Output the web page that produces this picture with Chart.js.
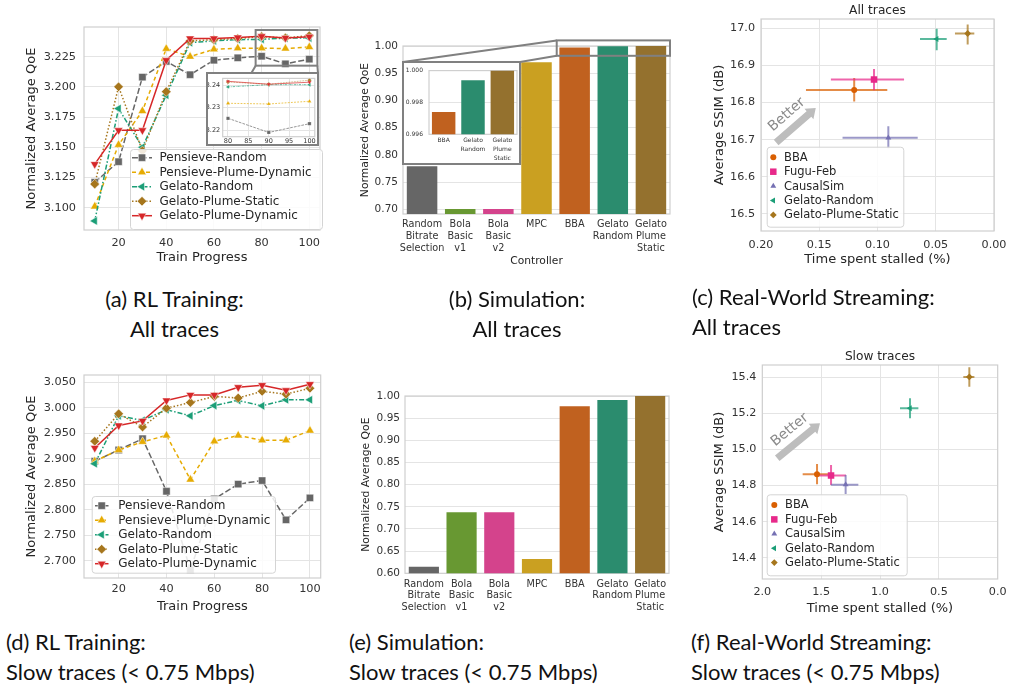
<!DOCTYPE html>
<html>
<head>
<meta charset="utf-8">
<script src="https://cdn.jsdelivr.net/npm/chart.js@4.4.1/dist/chart.umd.min.js"></script>
<style>
  html, body { margin: 0; padding: 0; background: #fff; }
  body { position: relative; width: 1014px; height: 692px; overflow: hidden; }
  canvas { position: absolute; }
  .cap { position: absolute; font-family: Lato, "Open Sans", sans-serif; font-size: 22px; line-height: 30px; color: #111; white-space: nowrap; }
</style>
</head>
<body>
<canvas id="chartA" style="left:0px;top:0px" width="340" height="270"></canvas>
<canvas id="chartB" style="left:330px;top:0px" width="345" height="270"></canvas>
<canvas id="chartC" style="left:675px;top:0px" width="339" height="271"></canvas>
<canvas id="chartD" style="left:0px;top:345px" width="340" height="273"></canvas>
<canvas id="chartE" style="left:330px;top:345px" width="345" height="273"></canvas>
<canvas id="chartF" style="left:675px;top:345px" width="339" height="274"></canvas>
<canvas id="insetA" style="left:206px;top:72px" width="113" height="74"></canvas>
<canvas id="insetB" style="left:402px;top:61px" width="119" height="104"></canvas>

<div class="cap" style="left:0px;top:284px;width:349px;text-align:center">(a) RL Training:<br>All traces</div>
<div class="cap" style="left:387px;top:284px;width:260px;text-align:center">(b) Simulation:<br>All traces</div>
<div class="cap" style="left:692px;top:282px">(c) Real-World Streaming:<br>All traces</div>
<div class="cap" style="left:6px;top:627px">(d) RL Training:<br>Slow traces (&lt; 0.75 Mbps)</div>
<div class="cap" style="left:349px;top:627px">(e) Simulation:<br>Slow traces (&lt; 0.75 Mbps)</div>
<div class="cap" style="left:691px;top:627px">(f) Real-World Streaming:<br>Slow traces (&lt; 0.75 Mbps)</div>

<script>
// ---------- data ----------
const trainProgress = [10, 20, 30, 40, 50, 60, 70, 80, 90, 100];
const trainNames = ['Pensieve-Random', 'Pensieve-Plume-Dynamic', 'Gelato-Random', 'Gelato-Plume-Static', 'Gelato-Plume-Dynamic'];

// (a) all traces
const allPensieveRandom   = [3.121, 3.138, 3.208, 3.221, 3.210, 3.222, 3.224, 3.2253, 3.219, 3.2229];
const allPensievePlumeDyn = [3.101, 3.152, 3.180, 3.2315, 3.225, 3.231, 3.232, 3.2320, 3.2317, 3.2329];
const allGelatoRandom     = [3.089, 3.182, 3.150, 3.193, 3.2365, 3.238, 3.239, 3.2393, 3.2403, 3.2403];
const allGelatoPlumeStat  = [3.1195, 3.200, 3.147, 3.196, 3.238, 3.239, 3.240, 3.2415, 3.2405, 3.2423];
const allGelatoPlumeDyn   = [3.136, 3.164, 3.164, 3.222, 3.240, 3.240, 3.2408, 3.2418, 3.2405, 3.2414];

// (d) slow traces
const slowPensieveRandom   = [2.895, 2.917, 2.939, 2.836, 2.682, 2.821, 2.850, 2.857, 2.780, 2.823];
const slowPensievePlumeDyn = [2.895, 2.917, 2.933, 2.9455, 2.859, 2.934, 2.9455, 2.936, 2.936, 2.955];
const slowGelatoRandom     = [2.890, 2.984, 2.975, 2.996, 2.984, 3.004, 3.014, 3.0036, 3.0154, 3.0154];
const slowGelatoPlumeStat  = [2.934, 2.988, 2.962, 2.999, 3.010, 3.022, 3.019, 3.032, 3.0265, 3.038];
const slowGelatoPlumeDyn   = [2.921, 2.965, 2.974, 3.014, 3.025, 3.025, 3.040, 3.044, 3.034, 3.046];

const progressTicks = [20, 40, 60, 80, 100];
const zoomProgressTicks = [80, 85, 90, 95, 100];
const qoeAllTicks = [3.100, 3.125, 3.150, 3.175, 3.200, 3.225];
const qoeSlowTicks = [2.700, 2.750, 2.800, 2.850, 2.900, 2.950, 3.000, 3.050];
const zoomQoeTicks = [3.22, 3.23, 3.24];

// (b), (e) simulation
const controllers = [['Random', 'Bitrate', 'Selection'], ['Bola', 'Basic', 'v1'], ['Bola', 'Basic', 'v2'], 'MPC', 'BBA', ['Gelato', 'Random'], ['Gelato', 'Plume', 'Static']];
const simAllQoE  = [0.779, 0.7005, 0.7005, 0.970, 0.9974, 0.9994, 1.000];
const simSlowQoE = [0.615, 0.738, 0.738, 0.632, 0.977, 0.991, 1.000];
const zoomControllers = ['BBA', ['Gelato', 'Random'], ['Gelato', 'Plume', 'Static']];
const zoomSimQoE = [0.9974, 0.9994, 1.000];
const simAllTicks = [0.70, 0.75, 0.80, 0.85, 0.90, 0.95, 1.00];
const simSlowTicks = [0.60, 0.65, 0.70, 0.75, 0.80, 0.85, 0.90, 0.95, 1.00];
const zoomSimTicks = [0.996, 0.998, 1.000];

// (c), (f) real-world streaming
const streamNames = ['BBA', 'Fugu-Feb', 'CausalSim', 'Gelato-Random', 'Gelato-Plume-Static'];
const allStall    = [0.120, 0.103, 0.0907, 0.0492, 0.0226];
const allStallLo  = [0.0916, 0.0772, 0.0655, 0.0406, 0.0169];
const allStallHi  = [0.1614, 0.140, 0.130, 0.0635, 0.0335];
const allSsim     = [16.834, 16.862, 16.705, 16.971, 16.986];
const allSsimLo   = [16.803, 16.833, 16.677, 16.941, 16.956];
const allSsimHi   = [16.866, 16.890, 16.736, 16.999, 17.010];
const slowStall   = [1.535, 1.416, 1.292, 0.745, 0.241];
const slowStallLo = [1.431, 1.289, 1.184, 0.674, 0.198];
const slowStallHi = [1.657, 1.516, 1.416, 0.830, 0.292];
const slowSsim    = [14.862, 14.856, 14.805, 15.228, 15.402];
const slowSsimLo  = [14.807, 14.803, 14.753, 15.173, 15.348];
const slowSsimHi  = [14.919, 14.914, 14.858, 15.284, 15.455];
const stallAllTicks = [0.00, 0.05, 0.10, 0.15, 0.20];
const stallSlowTicks = [0.0, 0.5, 1.0, 1.5, 2.0];
const ssimAllTicks = [16.5, 16.6, 16.7, 16.8, 16.9, 17.0];
const ssimSlowTicks = [14.4, 14.6, 14.8, 15.0, 15.2, 15.4];

// ---------- styles ----------
const FONT = 'DejaVu Sans';
const TICK = '#333333';
const LABEL = '#262626';
const GRID = '#e4e4e4';
const SPINE = '#cfcfcf';

const lineStyles = [
  { color: '#666666', dash: [6, 2.5], point: 'rect', rot: 0, r: 5.2 },
  { color: '#e6ab02', dash: [4, 3], point: 'triangle', rot: 0, r: 5 },
  { color: '#1b9e77', dash: [5, 2, 1.5, 2], point: 'triangle', rot: -90, r: 5 },
  { color: '#a6761d', dash: [1.5, 2], point: 'rectRot', rot: 0, r: 4.8 },
  { color: '#d62728', dash: [], point: 'triangle', rot: 180, r: 5 },
];
const barColors = ['#666666', '#689832', '#d4438c', '#caa021', '#c0611f', '#2b8c6e', '#94712e'];
const zoomBarColors = barColors.slice(4);
const streamStyles = [
  { color: '#d95f02', point: 'circle', rot: 0, r: 3 },
  { color: '#e7298a', point: 'rect', rot: 0, r: 4.6 },
  { color: '#7570b3', point: 'triangle', rot: 0, r: 3.4 },
  { color: '#1b9e77', point: 'triangle', rot: -90, r: 3.4 },
  { color: '#a6761d', point: 'rectRot', rot: 0, r: 3.4 },
];

function alpha(hex, a) {
  const n = parseInt(hex.slice(1), 16);
  return `rgba(${n >> 16}, ${(n >> 8) & 255}, ${n & 255}, ${a})`;
}

// ---------- plugins ----------
const frame = {
  id: 'frame',
  beforeDatasetsDraw(chart) {
    const { ctx, chartArea: a } = chart;
    ctx.save();
    ctx.strokeStyle = SPINE;
    ctx.lineWidth = 1.2;
    ctx.strokeRect(a.left, a.top, a.right - a.left, a.bottom - a.top);
    ctx.restore();
  }
};

const insetBox = {
  id: 'insetBox',
  beforeDraw(chart, args, o) {
    if (!o.on) return;
    chart.ctx.save();
    chart.ctx.fillStyle = '#ffffff';
    chart.ctx.fillRect(0, 0, chart.width, chart.height);
    chart.ctx.restore();
  },
  afterDraw(chart, args, o) {
    if (!o.on) return;
    const ctx = chart.ctx;
    ctx.save();
    ctx.strokeStyle = '#808080';
    ctx.lineWidth = 2;
    ctx.strokeRect(1, 1, chart.width - 2, chart.height - 2);
    ctx.restore();
  }
};

function roundRect(ctx, x, y, w, h, r) {
  ctx.moveTo(x + r, y);
  ctx.arcTo(x + w, y, x + w, y + h, r);
  ctx.arcTo(x + w, y + h, x, y + h, r);
  ctx.arcTo(x, y + h, x, y, r);
  ctx.arcTo(x, y, x + w, y, r);
  ctx.closePath();
}

const boxLegend = {
  id: 'boxLegend',
  afterDraw(chart, args, o) {
    if (!o.box) return;
    const ctx = chart.ctx;
    const [l, t, r, b] = o.box;
    ctx.save();
    ctx.beginPath();
    roundRect(ctx, l + 0.5, t + 0.5, r - l, b - t, 3);
    ctx.fillStyle = 'rgba(255,255,255,0.85)';
    ctx.fill();
    ctx.strokeStyle = '#d4d4d4';
    ctx.lineWidth = 1;
    ctx.stroke();
    ctx.font = o.fontSize + 'px "' + FONT + '"';
    ctx.textBaseline = 'middle';
    ctx.textAlign = 'left';
    chart.data.datasets.forEach((ds, i) => {
      const y = o.rowTop + i * o.rowStep;
      if (o.handle) {
        ctx.strokeStyle = ds.borderColor;
        ctx.lineWidth = ds.borderWidth;
        ctx.setLineDash(ds.borderDash || []);
        ctx.beginPath();
        ctx.moveTo(o.handle[0], y);
        ctx.lineTo(o.handle[1], y);
        ctx.stroke();
        ctx.setLineDash([]);
      }
      ctx.fillStyle = ds.pointBackgroundColor;
      ctx.strokeStyle = ds.pointBorderColor;
      ctx.lineWidth = ds.pointBorderWidth || 0;
      Chart.helpers.drawPoint(ctx, {
        pointStyle: ds.pointStyle, rotation: ds.pointRotation || 0,
        radius: ds.pointRadius, borderWidth: ds.pointBorderWidth || 0
      }, o.markerX, y);
      ctx.fillStyle = LABEL;
      ctx.fillText(ds.label, o.textX, y + 0.5);
    });
    ctx.restore();
  }
};

const errorBars = {
  id: 'errorBars',
  beforeDatasetsDraw(chart) {
    const { ctx, scales: { x, y } } = chart;
    ctx.save();
    ctx.lineWidth = 2;
    chart.data.datasets.forEach(ds => {
      if (!ds.errX) return;
      const p = ds.data[0];
      const px = x.getPixelForValue(p.x), py = y.getPixelForValue(p.y);
      ctx.strokeStyle = ds.errColor;
      ctx.beginPath();
      ctx.moveTo(x.getPixelForValue(ds.errX[0]), py);
      ctx.lineTo(x.getPixelForValue(ds.errX[1]), py);
      ctx.moveTo(px, y.getPixelForValue(ds.errY[0]));
      ctx.lineTo(px, y.getPixelForValue(ds.errY[1]));
      ctx.stroke();
    });
    ctx.restore();
  }
};

const betterArrow = {
  id: 'betterArrow',
  afterDatasetsDraw(chart, args, o) {
    if (!o.from) return;
    const { ctx, scales: { x, y } } = chart;
    const x0 = x.getPixelForValue(o.from[0]), y0 = y.getPixelForValue(o.from[1]);
    const x1 = x.getPixelForValue(o.to[0]), y1 = y.getPixelForValue(o.to[1]);
    const ang = Math.atan2(y1 - y0, x1 - x0);
    const len = Math.hypot(x1 - x0, y1 - y0);
    const sw = 3.6, hw = 6.8, hl = 9;
    ctx.save();
    ctx.translate(x0, y0);
    ctx.rotate(ang);
    ctx.fillStyle = '#bdbdbd';
    ctx.beginPath();
    ctx.moveTo(0, -sw); ctx.lineTo(len - hl, -sw); ctx.lineTo(len - hl, -hw);
    ctx.lineTo(len, 0);
    ctx.lineTo(len - hl, hw); ctx.lineTo(len - hl, sw); ctx.lineTo(0, sw);
    ctx.closePath();
    ctx.fill();
    ctx.fillStyle = '#8a8a8a';
    ctx.font = '14px "' + FONT + '"';
    ctx.textAlign = 'center';
    ctx.textBaseline = 'middle';
    ctx.fillText(o.text, len / 2, -14);
    ctx.restore();
  }
};

const panelTitle = {
  id: 'panelTitle',
  afterDraw(chart, args, o) {
    if (!o.text) return;
    const { ctx, chartArea: a } = chart;
    ctx.save();
    ctx.font = o.size + 'px "' + FONT + '"';
    ctx.fillStyle = LABEL;
    ctx.textAlign = 'center';
    ctx.textBaseline = 'middle';
    ctx.fillText(o.text, (a.left + a.right) / 2, a.top - o.offset);
    ctx.restore();
  }
};

// indicator rectangle on the main axes and connector lines to the inset box
const zoomLinks = {
  id: 'zoomLinks',
  afterDraw(chart, args, o) {
    if (!o.rect) return;
    const { ctx, scales: { x, y } } = chart;
    const rx0 = x.getPixelForValue(o.rect[0]), rx1 = x.getPixelForValue(o.rect[1]);
    const ry0 = y.getPixelForValue(o.rect[2]), ry1 = y.getPixelForValue(o.rect[3]);
    const rc = { bl: [rx0, ry0], tl: [rx0, ry1], br: [rx1, ry0], tr: [rx1, ry1] };
    const el = document.getElementById(o.inset);
    const ix0 = el.offsetLeft - chart.canvas.offsetLeft + 1;
    const iy0 = el.offsetTop - chart.canvas.offsetTop + 1;
    const ix1 = ix0 + el.width - 2;
    const topPoint = k => k === 'tl' ? [ix0, iy0] : k === 'tr' ? [ix1, iy0] : [ix0 + k * (ix1 - ix0), iy0];
    ctx.save();
    ctx.strokeStyle = '#808080';
    ctx.lineWidth = 2;
    ctx.strokeRect(rx0, ry1, rx1 - rx0, ry0 - ry1);
    ctx.beginPath();
    o.links.forEach(([a, b]) => {
      const p = topPoint(a);
      ctx.moveTo(p[0], p[1]);
      ctx.lineTo(rc[b][0], rc[b][1]);
    });
    ctx.stroke();
    ctx.restore();
  }
};

Chart.register(frame, insetBox, boxLegend, errorBars, betterArrow, panelTitle, zoomLinks);
Chart.defaults.font.family = FONT;
Chart.defaults.color = TICK;
Chart.defaults.plugins.legend.display = false;
Chart.defaults.plugins.tooltip.enabled = false;

// ---------- axis helpers ----------
function numAxis(c) {
  return {
    type: 'linear', min: c.min, max: c.max, reverse: !!c.reverse,
    afterBuildTicks: s => { s.ticks = c.ticks.map(v => ({ value: v })); },
    afterFit: s => { if (c.isX) s.height = c.fit; else s.width = c.fit; },
    grid: { display: c.grid !== false, color: GRID, lineWidth: 1, drawTicks: false },
    border: { display: false },
    ticks: { font: { size: c.size }, padding: c.pad, color: TICK, autoSkip: false, maxRotation: 0,
             callback: v => v.toFixed(c.dec) },
    title: c.title ? { display: true, text: c.title, color: LABEL, font: { size: c.titleSize },
                       padding: c.isX ? { top: 0, bottom: c.titlePad } : { top: c.titlePad, bottom: 0 } }
                   : { display: false }
  };
}
function catAxis(c) {
  return {
    type: 'category',
    afterFit: s => { s.height = c.fit; },
    grid: { display: false, drawTicks: false },
    border: { display: false },
    ticks: { font: { size: c.size, lineHeight: c.lh || 1.2 }, padding: c.pad, color: TICK, autoSkip: false, maxRotation: 0 },
    title: c.title ? { display: true, text: c.title, color: LABEL, font: { size: c.titleSize }, padding: { top: 0, bottom: c.titlePad } }
                   : { display: false }
  };
}

// ---------- training line charts ----------
function trainDatasets(series, k, fromX) {
  return trainNames.map((name, i) => {
    const st = lineStyles[i];
    const pts = trainProgress.map((p, j) => ({ x: p, y: series[i][j] })).filter(d => d.x >= fromX);
    return {
      label: name, data: pts, order: trainNames.length - i,
      borderColor: st.color, borderWidth: 1.5 * k, borderDash: st.dash.map(d => d * k),
      pointStyle: st.point, pointRotation: st.rot, pointRadius: st.r * k,
      pointBackgroundColor: st.color, pointBorderColor: '#ffffff', pointBorderWidth: 0.5 * k,
      tension: 0, fill: false
    };
  });
}

function trainChart(id, series, yc, pad, legend) {
  return new Chart(document.getElementById(id), {
    type: 'line',
    data: { datasets: trainDatasets(series, 1, 0) },
    options: {
      responsive: false, animation: false, devicePixelRatio: 1,
      layout: { padding: pad },
      scales: {
        x: numAxis({ isX: true, min: 5.5, max: 104.5, ticks: progressTicks, dec: 0, size: 11.3, pad: yc.xPad, fit: 40,
                     title: 'Train Progress', titleSize: 13, titlePad: yc.xTitlePad }),
        y: numAxis({ min: yc.min, max: yc.max, ticks: yc.ticks, dec: 3, size: 11.3, pad: 8, fit: 84,
                     title: 'Normalized Average QoE', titleSize: 13, titlePad: 24.2 })
      },
      plugins: { boxLegend: legend, zoomLinks: yc.links || {} }
    }
  });
}

const allTrainSeries = [allPensieveRandom, allPensievePlumeDyn, allGelatoRandom, allGelatoPlumeStat, allGelatoPlumeDyn];
const slowTrainSeries = [slowPensieveRandom, slowPensievePlumeDyn, slowGelatoRandom, slowGelatoPlumeStat, slowGelatoPlumeDyn];

trainChart('chartA', allTrainSeries,
  { min: 3.0815, max: 3.2495, ticks: qoeAllTicks, xPad: 6, xTitlePad: 4.2,
    links: { rect: [77.5, 103.4, 3.2175, 3.247], inset: 'insetA', links: [[0.4, 'bl'], ['tr', 'br']] } },
  { top: 27, right: 20, left: 0, bottom: 0 },
  { box: [130, 149, 322, 229], rowTop: 157.7, rowStep: 14.5, handle: [132, 152], markerX: 142, textX: 159.5, fontSize: 12 });

trainChart('chartD', slowTrainSeries,
  { min: 2.666, max: 3.064, ticks: qoeSlowTicks, xPad: 4.5, xTitlePad: 3.2 },
  { top: 30, right: 19.3, left: 0, bottom: 0 },
  { box: [91.7, 151, 275, 227.7], rowTop: 160.7, rowStep: 14.5, handle: [95, 108.5], markerX: 101.7, textX: 118.3, fontSize: 12 });

// zoomed inset of (a)
new Chart(document.getElementById('insetA'), {
  type: 'line',
  data: { datasets: trainDatasets(allTrainSeries, 0.45, 80) },
  options: {
    responsive: false, animation: false, devicePixelRatio: 1,
    layout: { padding: { top: 4, right: 3, left: 0, bottom: 0 } },
    scales: {
      x: numAxis({ isX: true, min: 78.7, max: 101.3, ticks: zoomProgressTicks, dec: 0, size: 6.5, pad: 0.5, fit: 9.3 }),
      y: numAxis({ min: 3.2171, max: 3.2431, ticks: zoomQoeTicks, dec: 2, size: 6.5, pad: 2.5, fit: 16.7 })
    },
    plugins: { insetBox: { on: true } }
  }
});

// ---------- simulation bar charts ----------
function simChart(id, labels, values, colors, c) {
  return new Chart(document.getElementById(id), {
    type: 'bar',
    data: { labels: labels, datasets: [{ data: values, backgroundColor: colors, borderWidth: 0,
                                         barPercentage: 0.8, categoryPercentage: 1.0 }] },
    options: {
      responsive: false, animation: false, devicePixelRatio: 1,
      layout: { padding: c.padding },
      scales: {
        x: catAxis({ fit: c.xFit, size: c.xSize, lh: c.lh, pad: c.xPad, title: c.xTitle, titleSize: 10.7, titlePad: 2.6 }),
        y: numAxis({ min: c.min, max: c.max, ticks: c.ticks, dec: c.dec, size: c.ySize, pad: c.yPad, fit: c.yFit,
                     title: c.yTitle, titleSize: 10.8, titlePad: c.yTitlePad })
      },
      plugins: { zoomLinks: c.links || {}, insetBox: { on: !!c.inset } }
    }
  });
}

simChart('chartB', controllers, simAllQoE, barColors, {
  padding: { top: 46, right: 5, left: 0, bottom: 0 }, xFit: 56, xSize: 9.7, xPad: 5, xTitle: 'Controller',
  min: 0.6915, max: 1.0, ticks: simAllTicks, dec: 2, ySize: 10.5, yPad: 5, yFit: 73,
  yTitle: 'Normalized Average QoE', yTitlePad: 28.6,
  links: { rect: [3.53, 6.5, 0.982, 1.0103], inset: 'insetB', links: [['tl', 'tl'], ['tr', 'bl']] }
});

simChart('chartE', controllers, simSlowQoE, barColors, {
  padding: { top: 51, right: 6, left: 0, bottom: 0 }, xFit: 44.7, xSize: 9.7, xPad: 5,
  min: 0.6, max: 1.0, ticks: simSlowTicks, dec: 2, ySize: 10.5, yPad: 5, yFit: 75,
  yTitle: 'Normalized Average QoE', yTitlePad: 29.6
});

simChart('insetB', zoomControllers, zoomSimQoE, zoomBarColors, {
  inset: true,
  padding: { top: 8, right: 4, left: 0, bottom: 0 }, xFit: 30.7, xSize: 6, lh: 1.5, xPad: 2,
  min: 0.996, max: 1.0, ticks: zoomSimTicks, dec: 3, ySize: 6, yPad: 6, yFit: 27
});

// ---------- real-world streaming scatter charts ----------
function streamDatasets(stall, lo, hi, ssim, sLo, sHi) {
  return streamNames.map((name, i) => {
    const st = streamStyles[i];
    return {
      label: name, data: [{ x: stall[i], y: ssim[i] }],
      errX: [lo[i], hi[i]], errY: [sLo[i], sHi[i]], errColor: alpha(st.color, 0.72),
      pointStyle: st.point, pointRotation: st.rot, pointRadius: st.r,
      pointBackgroundColor: st.color, pointBorderColor: st.color, pointBorderWidth: 0,
      backgroundColor: st.color, borderColor: st.color
    };
  });
}

function streamChart(id, datasets, c) {
  return new Chart(document.getElementById(id), {
    type: 'scatter',
    data: { datasets: datasets },
    options: {
      responsive: false, animation: false, devicePixelRatio: 1,
      layout: { padding: c.padding },
      scales: {
        x: numAxis({ isX: true, reverse: true, min: c.xMin, max: c.xMax, ticks: c.xTicks, dec: c.xDec, size: 11.2,
                     pad: c.xPad, fit: 40, title: 'Time spent stalled (%)', titleSize: 13, titlePad: c.xTitlePad }),
        y: numAxis({ min: c.yMin, max: c.yMax, ticks: c.yTicks, dec: 1, size: 11.2, pad: 6, fit: c.yFit,
                     title: 'Average SSIM (dB)', titleSize: 13, titlePad: 36.5 })
      },
      plugins: {
        panelTitle: { text: c.title, size: 12.2, offset: c.titleOffset },
        betterArrow: { from: c.arrow[0], to: c.arrow[1], text: 'Better' },
        boxLegend: c.legend
      }
    }
  });
}

streamChart('chartC', streamDatasets(allStall, allStallLo, allStallHi, allSsim, allSsimLo, allSsimHi), {
  padding: { top: 19, right: 20, left: 0, bottom: 0 }, yFit: 86,
  xMin: 0, xMax: 0.2, xTicks: stallAllTicks, xDec: 2, xPad: 7.4, xTitlePad: 4,
  yMin: 16.454, yMax: 17.025, yTicks: ssimAllTicks,
  title: 'All traces', titleOffset: 8,
  arrow: [[0.187, 16.6925], [0.153, 16.785]],
  legend: { box: [91.7, 146.7, 228.3, 226.7], rowTop: 157.3, rowStep: 14.4, markerX: 98.3, textX: 109, fontSize: 11.5 }
});

streamChart('chartF', streamDatasets(slowStall, slowStallLo, slowStallHi, slowSsim, slowSsimLo, slowSsimHi), {
  padding: { top: 20, right: 16.3, left: 0, bottom: 0 }, yFit: 87.3,
  xMin: 0, xMax: 2.0, xTicks: stallSlowTicks, xDec: 1, xPad: 6.1, xTitlePad: 3,
  yMin: 14.282, yMax: 15.468, yTicks: ssimSlowTicks,
  title: 'Slow traces', titleOffset: 8,
  arrow: [[1.873, 14.951], [1.51, 15.145]],
  legend: { box: [91.7, 149.3, 231.7, 230.3], rowTop: 160, rowStep: 14.4, markerX: 99.3, textX: 110, fontSize: 11.5 }
});
</script>
</body>
</html>
